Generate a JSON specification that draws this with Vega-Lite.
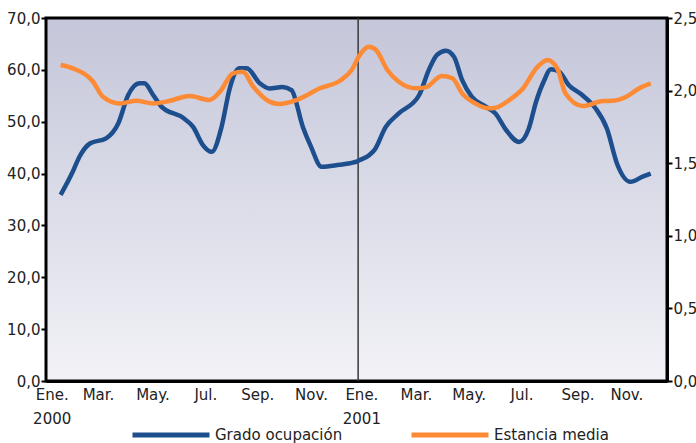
{
  "$schema": "https://vega.github.io/schema/vega-lite/v6.json",
  "width": 621,
  "height": 363,
  "autosize": {"type": "none"},
  "padding": {"left": 46, "top": 18, "right": 29, "bottom": 62},
  "background": "white",
  "config": {
    "view": {"stroke": null},
    "font": "DejaVu Sans",
    "axis": {"labelFont": "DejaVu Sans", "labelFontSize": 15, "labelColor": "#222222", "domainColor": "black", "domainWidth": 3, "tickColor": "black", "grid": false, "title": null}
  },
  "datasets": {
    "ocupacion": [
      {"fecha": "2000-01-01", "valor": 35.9},
      {"fecha": "2000-01-16", "valor": 40.4},
      {"fecha": "2000-01-24", "valor": 43.2},
      {"fecha": "2000-02-06", "valor": 45.8},
      {"fecha": "2000-02-26", "valor": 46.8},
      {"fecha": "2000-03-12", "valor": 49.7},
      {"fecha": "2000-03-24", "valor": 55.1},
      {"fecha": "2000-04-07", "valor": 57.4},
      {"fecha": "2000-04-13", "valor": 57.4},
      {"fecha": "2000-04-24", "valor": 55.1},
      {"fecha": "2000-05-04", "valor": 52.9},
      {"fecha": "2000-05-31", "valor": 50.7},
      {"fecha": "2000-06-12", "valor": 49.0},
      {"fecha": "2000-06-24", "valor": 45.5},
      {"fecha": "2000-07-05", "valor": 44.2},
      {"fecha": "2000-07-17", "valor": 49.0},
      {"fecha": "2000-07-27", "valor": 56.4},
      {"fecha": "2000-08-08", "valor": 60.3},
      {"fecha": "2000-08-17", "valor": 60.3},
      {"fecha": "2000-09-02", "valor": 57.4},
      {"fecha": "2000-09-14", "valor": 56.4},
      {"fecha": "2000-09-30", "valor": 56.7},
      {"fecha": "2000-10-11", "valor": 56.1},
      {"fecha": "2000-10-25", "valor": 49.0},
      {"fecha": "2000-11-04", "valor": 45.2},
      {"fecha": "2000-11-17", "valor": 41.3},
      {"fecha": "2000-12-09", "valor": 41.7},
      {"fecha": "2000-12-22", "valor": 42.0},
      {"fecha": "2000-12-30", "valor": 42.3},
      {"fecha": "2001-01-03", "valor": 42.6},
      {"fecha": "2001-01-15", "valor": 43.6},
      {"fecha": "2001-01-21", "valor": 44.5},
      {"fecha": "2001-02-04", "valor": 49.0},
      {"fecha": "2001-02-20", "valor": 51.6},
      {"fecha": "2001-03-17", "valor": 55.1},
      {"fecha": "2001-03-29", "valor": 60.0},
      {"fecha": "2001-04-08", "valor": 62.9},
      {"fecha": "2001-04-19", "valor": 63.7},
      {"fecha": "2001-04-29", "valor": 62.5},
      {"fecha": "2001-05-09", "valor": 58.0},
      {"fecha": "2001-05-21", "valor": 54.8},
      {"fecha": "2001-06-07", "valor": 52.9},
      {"fecha": "2001-06-19", "valor": 51.6},
      {"fecha": "2001-07-02", "valor": 48.4},
      {"fecha": "2001-07-18", "valor": 46.1},
      {"fecha": "2001-07-30", "valor": 48.7},
      {"fecha": "2001-08-08", "valor": 53.9},
      {"fecha": "2001-08-18", "valor": 58.0},
      {"fecha": "2001-08-26", "valor": 60.1},
      {"fecha": "2001-09-05", "valor": 59.7},
      {"fecha": "2001-09-17", "valor": 57.1},
      {"fecha": "2001-10-04", "valor": 55.1},
      {"fecha": "2001-10-20", "valor": 52.6},
      {"fecha": "2001-11-03", "valor": 48.7},
      {"fecha": "2001-11-16", "valor": 41.7},
      {"fecha": "2001-12-02", "valor": 38.4},
      {"fecha": "2001-12-17", "valor": 39.4},
      {"fecha": "2001-12-27", "valor": 40.0}
    ],
    "estancia": [
      {"fecha": "2000-01-01", "valor": 2.176},
      {"fecha": "2000-01-16", "valor": 2.153},
      {"fecha": "2000-02-10", "valor": 2.061},
      {"fecha": "2000-02-22", "valor": 1.958},
      {"fecha": "2000-03-14", "valor": 1.912},
      {"fecha": "2000-04-03", "valor": 1.930},
      {"fecha": "2000-04-24", "valor": 1.912},
      {"fecha": "2000-05-10", "valor": 1.924},
      {"fecha": "2000-06-08", "valor": 1.963},
      {"fecha": "2000-07-02", "valor": 1.935},
      {"fecha": "2000-07-15", "valor": 1.993},
      {"fecha": "2000-07-31", "valor": 2.119},
      {"fecha": "2000-08-12", "valor": 2.130},
      {"fecha": "2000-08-25", "valor": 2.027},
      {"fecha": "2000-09-14", "valor": 1.924},
      {"fecha": "2000-09-26", "valor": 1.908},
      {"fecha": "2000-10-17", "valor": 1.935},
      {"fecha": "2000-11-15", "valor": 2.016},
      {"fecha": "2000-12-11", "valor": 2.073},
      {"fecha": "2000-12-24", "valor": 2.142},
      {"fecha": "2001-01-03", "valor": 2.245},
      {"fecha": "2001-01-14", "valor": 2.302},
      {"fecha": "2001-01-23", "valor": 2.280},
      {"fecha": "2001-02-06", "valor": 2.142},
      {"fecha": "2001-02-20", "valor": 2.061},
      {"fecha": "2001-03-13", "valor": 2.016},
      {"fecha": "2001-03-25", "valor": 2.022},
      {"fecha": "2001-04-14", "valor": 2.100},
      {"fecha": "2001-04-27", "valor": 2.085},
      {"fecha": "2001-05-09", "valor": 1.981},
      {"fecha": "2001-05-25", "valor": 1.912},
      {"fecha": "2001-06-11", "valor": 1.878},
      {"fecha": "2001-06-19", "valor": 1.882},
      {"fecha": "2001-07-06", "valor": 1.935},
      {"fecha": "2001-07-23", "valor": 2.016},
      {"fecha": "2001-08-08", "valor": 2.153},
      {"fecha": "2001-08-22", "valor": 2.211},
      {"fecha": "2001-09-03", "valor": 2.153},
      {"fecha": "2001-09-13", "valor": 1.981},
      {"fecha": "2001-10-04", "valor": 1.894},
      {"fecha": "2001-10-29", "valor": 1.928},
      {"fecha": "2001-11-10", "valor": 1.930},
      {"fecha": "2001-11-27", "valor": 1.958},
      {"fecha": "2001-12-13", "valor": 2.016},
      {"fecha": "2001-12-27", "valor": 2.049}
    ],
    "corte": [{"fecha": "2001-01-01"}]
  },
  "layer": [
    {
      "data": {"values": [{}]},
      "mark": {
        "type": "rect",
        "stroke": "black",
        "strokeWidth": 3,
        "color": {"gradient": "linear", "x1": 0, "y1": 0, "x2": 0, "y2": 1, "stops": [{"offset": 0, "color": "#c4c6d9"}, {"offset": 1, "color": "#f2f2f7"}]}
      },
      "encoding": {}
    },
    {
      "data": {"name": "corte"},
      "mark": {"type": "rule", "color": "#3a3a3a", "strokeWidth": 1.5},
      "encoding": {
        "x": {"field": "fecha", "type": "temporal"}
      }
    },
    {
      "data": {"name": "ocupacion"},
      "mark": {"type": "line", "strokeWidth": 4.5, "interpolate": "monotone"},
      "encoding": {
        "x": {
          "field": "fecha", "type": "temporal",
          "scale": {"type": "utc", "domain": [{"year": 1999, "month": 12, "date": 14, "utc": true}, {"year": 2002, "month": 1, "date": 16, "utc": true}]},
          "axis": {
            "ticks": false,
            "labelPadding": 6,
            "labelLineHeight": 24,
            "labelBaseline": "top",
            "values": [
              {"year": 1999, "month": 12, "date": 21, "utc": true},
              {"year": 2000, "month": 2, "date": 16, "utc": true},
              {"year": 2000, "month": 4, "date": 23, "utc": true},
              {"year": 2000, "month": 6, "date": 27, "utc": true},
              {"year": 2000, "month": 8, "date": 30, "utc": true},
              {"year": 2000, "month": 11, "date": 4, "utc": true},
              {"year": 2001, "month": 1, "date": 5, "utc": true},
              {"year": 2001, "month": 3, "date": 13, "utc": true},
              {"year": 2001, "month": 5, "date": 17, "utc": true},
              {"year": 2001, "month": 7, "date": 21, "utc": true},
              {"year": 2001, "month": 9, "date": 28, "utc": true},
              {"year": 2001, "month": 11, "date": 27, "utc": true}
            ],
            "labelExpr": "(round((datum.value - 945734400000) / 5564160000) % 6) == 0 ? ['Ene.', '' + (2000 + floor(round((datum.value - 945734400000) / 5564160000) / 6))] : ['Ene.','Mar.','May.','Jul.','Sep.','Nov.'][round((datum.value - 945734400000) / 5564160000) % 6]"
          }
        },
        "y": {
          "field": "valor", "type": "quantitative",
          "scale": {"domain": [0, 70], "nice": false},
          "axis": {"orient": "left", "values": [0, 10, 20, 30, 40, 50, 60, 70], "tickSize": 5, "tickWidth": 2, "labelPadding": 1, "labelExpr": "replace(format(datum.value, '.1f'), '.', ',')"}
        },
        "color": {
          "datum": "Grado ocupación",
          "type": "nominal",
          "scale": {"domain": ["Grado ocupación", "Estancia media"], "range": ["#1d4e8d", "#fd8a35"]},
          "legend": {
            "orient": "none",
            "legendX": 84,
            "legendY": 376,
            "direction": "horizontal",
            "title": null,
            "padding": 0,
            "symbolType": "stroke",
            "symbolSize": 5929,
            "symbolStrokeWidth": 5,
            "labelFont": "DejaVu Sans",
            "labelFontSize": 15,
            "labelColor": "#222222",
            "columnPadding": 58,
            "labelOffset": 3
          }
        }
      }
    },
    {
      "data": {"name": "estancia"},
      "mark": {"type": "line", "strokeWidth": 4.5, "interpolate": "monotone"},
      "encoding": {
        "x": {"field": "fecha", "type": "temporal"},
        "y": {
          "field": "valor", "type": "quantitative",
          "scale": {"domain": [0, 2.5], "nice": false},
          "axis": {"orient": "right", "values": [0, 0.5, 1, 1.5, 2, 2.5], "tickSize": 5, "tickWidth": 2, "labelPadding": 1, "labelExpr": "replace(format(datum.value, '.1f'), '.', ',')"}
        },
        "color": {"datum": "Estancia media", "type": "nominal"}
      }
    }
  ],
  "resolve": {"scale": {"y": "independent"}}
}
